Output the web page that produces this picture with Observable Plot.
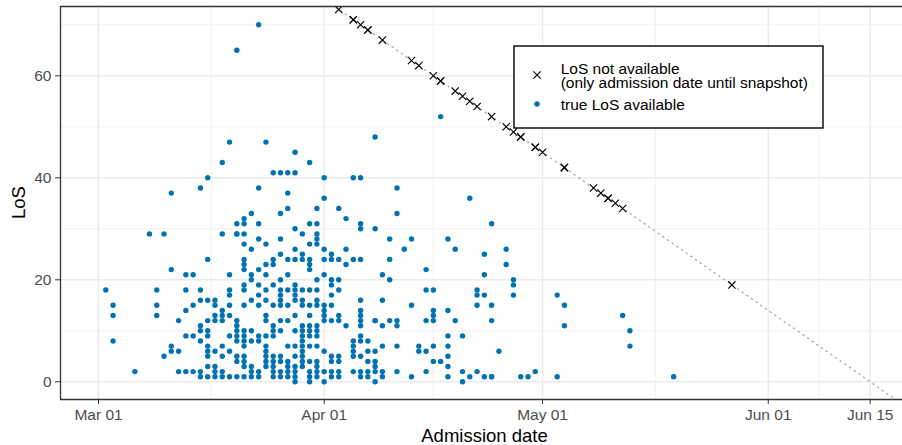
<!DOCTYPE html>
<html><head><meta charset="utf-8">
<script src="https://cdn.jsdelivr.net/npm/d3@7"></script>
<script src="https://cdn.jsdelivr.net/npm/@observablehq/plot@0.6"></script>
<style>body{margin:0;background:#fff} #chart{position:relative;width:902px;height:445px}</style>
</head><body><div id="chart"></div>
<script>
// ---- data ----
const startDate = "2020-03-01";      // day 0 of admission-day offsets
const snapshotDate = "2020-06-15";   // data snapshot date
// admission day offsets (days after Mar 01) with observed LoS values on that day
const trueDays = [1,2,5,7,8,9,10,11,12,13,14,15,16,17,18,19,20,21,22,23,24,25,26,27,28,29,30,31,32,33,34,35,36,37,38,39,40,41,42,43,44,45,46,47,48,49,50,51,52,53,54,55,56,57,58,59,60,63,64,72,73,79];
const trueLoS = [
  [18],[15,13,8],[2],[29],[18,15,13],[29,5],[37,22,7,6],[12,6,2],[21,18,14,9,2],[21,15,9,2],
  [38,18,16,11,10,8,2,1],[40,24,16,12,10,9,7,6,5,3,1],[16,15,13,12,6,3,2,1],[43,29,14,13,12,7,5,2,1],
  [47,21,18,17,15,13,9,6,1],[65,31,29,29,12,11,10,9,8,5,4,1],[32,31,29,27,24,23,22,19,18,15,10,9,8,7,5,4,3,1],
  [33,26,21,20,16,10,8,3,2,1],[70,38,31,28,22,19,17,15,9,8,2,1],[47,27,23,21,18,16,13,12,9,7,6,5,4,3],
  [41,24,23,19,15,11,10,9,5,4,3,2,1],[41,33,28,25,20,18,17,16,15,12,10,5,4,2,1],[41,37,34,24,21,18,15,12,7,4,3,2,1],
  [45,41,30,26,24,19,18,17,16,13,10,7,5,3,2,1,0],[29,25,24,18,16,15,11,10,9,8,7,6,5,4,3],
  [43,31,27,24,23,22,18,15,13,11,10,9,7,4,2,1,0],[34,31,29,28,27,20,18,16,15,11,10,9,7,4,3,2,1],
  [40,36,26,24,21,15,14,13,12,6,2,0],[25,24,20,19,17,15,12,5,4,2,1],[34,24,20,18,13,12,5,4,2,1],
  [32,26,23,11],[40,24,8,7,6,5,2],[40,31,30,24,16,14,13,12,11,9,8,5,2,1],[8,6,4,2,1],[48,30,12,12,6,4,3,2,0],
  [21,16,11,7,2,1],[28,24,20,12],[38,33,12,11,7,2],[26],[28,15,1],[7,6],[22,18,12,6,2],[18,14,13,12,7,4],
  [52,4],[28,14,9,7,5,3,1],[26,12],[9,2,0],[36,1],[18,17,15,2],[25,21,17,1],[31,15,12,1,1],[6],[26,23],
  [20,19,17],[1],[1],[2],[17,1],[15,11],[13],[10,7],[1]
];
// censored patients: admission day offsets and LoS until snapshot
const censDays = [33,35,35,36,37,37,39,43,44,46,47,47,49,50,51,52,54,56,57,58,58,60,60,61,64,64,68,69,70,70,71,72,87];
const censLoS  = [73,71,71,70,69,69,67,63,62,60,59,59,57,56,55,54,52,50,49,48,48,46,46,45,42,42,38,37,36,36,35,34,19];
const xMajorTicks = ["2020-03-01","2020-04-01","2020-05-01","2020-06-01","2020-06-15"];
const xMinorGrid = ["2020-03-16T12:00Z","2020-04-16T00:00Z","2020-05-16T12:00Z","2020-06-08T00:00Z"];
const yMajorTicks = [0,20,40,60];
const yMinorGrid = [10,30,50,70];
const legendLines = [["LoS not available","(only admission date until snapshot)"],["true LoS available"]];
const xTitle = "Admission date";
const yTitle = "LoS";

// ---- build ----
const DAY = 864e5;
const t0 = new Date(startDate);
const toDate = d => new Date(+t0 + d * DAY);
const trueData = trueDays.flatMap((d, i) => trueLoS[i].map(v => ({date: toDate(d), los: v})));
const censData = censDays.map((d, i) => ({date: toDate(d), los: censLoS[i]}));
const xDomain = [toDate(-5.22), toDate(110.44)];
const yDomain = [-3.47, 73.59];
const snap = new Date(snapshotDate);
const refLine = xDomain.map(dt => ({date: dt, los: (snap - dt) / DAY}));
const xMajor = xMajorTicks.map(s => new Date(s));
const xMinor = xMinorGrid.map(s => new Date(s));
const FONT = "'Liberation Sans', Arial, Helvetica, sans-serif";
const BLUE = "#0072B2";

const plot = Plot.plot({
  width: 902, height: 445,
  marginLeft: 60, marginRight: 0, marginTop: 6, marginBottom: 46,
  style: {fontFamily: FONT, fontSize: "15.5px", background: "white", color: "#4d4d4d"},
  x: {type: "utc", domain: xDomain, label: null},
  y: {domain: yDomain, label: null},
  marks: [
    Plot.ruleX(xMinor, {stroke: "#ebebeb", strokeWidth: 0.7}),
    Plot.ruleY(yMinorGrid, {stroke: "#ebebeb", strokeWidth: 0.7}),
    Plot.ruleX(xMajor, {stroke: "#ebebeb", strokeWidth: 1.4}),
    Plot.ruleY(yMajorTicks, {stroke: "#ebebeb", strokeWidth: 1.4}),
    Plot.line(refLine, {x: "date", y: "los", stroke: "#a8a8a8", strokeWidth: 1.3, strokeDasharray: "1.3,4.4", clip: true}),
    Plot.dot(censData, {x: "date", y: "los", symbol: "times", r: 3.4, stroke: "black", strokeWidth: 1.1, clip: true}),
    Plot.dot(trueData, {x: "date", y: "los", r: 2.7, fill: BLUE, stroke: "none"}),
    Plot.axisX({ticks: xMajor, tickFormat: d3.utcFormat("%b %d"), tickSize: 5, tickPadding: 4, stroke: "#333", fill: "#4d4d4d", label: null}),
    Plot.axisY({ticks: yMajorTicks, tickSize: 5, tickPadding: 4, stroke: "#333", fill: "#4d4d4d", label: null}),
    Plot.ruleX([xDomain[0]], {stroke: "#333", strokeWidth: 1.3}),
    Plot.ruleY([yDomain[0]], {stroke: "#333", strokeWidth: 1.3}),
    Plot.ruleY([yDomain[1]], {stroke: "#333", strokeWidth: 1.3})
  ]
});
document.getElementById("chart").appendChild(plot);

// ---- axis titles and legend ----
const svg = d3.select(plot);
svg.append("text").text(xTitle).attr("x", 484.5).attr("y", 442)
  .attr("text-anchor", "middle").attr("fill", "black").style("font-size", "18.5px").style("font-family", FONT);
svg.append("text").text(yTitle).attr("transform", "translate(25,202.5) rotate(-90)")
  .attr("text-anchor", "middle").attr("fill", "black").style("font-size", "18.5px").style("font-family", FONT);

const lg = svg.append("g").attr("transform", "translate(514,46)").attr("text-anchor", "start");
lg.append("rect").attr("width", 309).attr("height", 82).attr("fill", "white").attr("stroke", "black").attr("stroke-width", 1.4);
lg.append("path").attr("transform", "translate(23,29)")
  .attr("d", d3.symbol(d3.symbolTimes, Math.PI * 3.4 * 3.4)()).attr("stroke", "black").attr("stroke-width", 1.1).attr("fill", "none");
lg.append("circle").attr("cx", 23).attr("cy", 58).attr("r", 2.7).attr("fill", BLUE);
const t1 = lg.append("text").attr("fill", "black").attr("text-anchor", "start").style("font-size", "15.5px").style("font-family", FONT);
legendLines[0].forEach((s, i) => t1.append("tspan").attr("x", 46.7).attr("y", 27.5 + i * 14.5).text(s));
lg.append("text").attr("fill", "black").attr("text-anchor", "start").style("font-size", "15.5px").style("font-family", FONT)
  .attr("x", 46.7).attr("y", 63.5).text(legendLines[1][0]);
</script>
</body></html>
